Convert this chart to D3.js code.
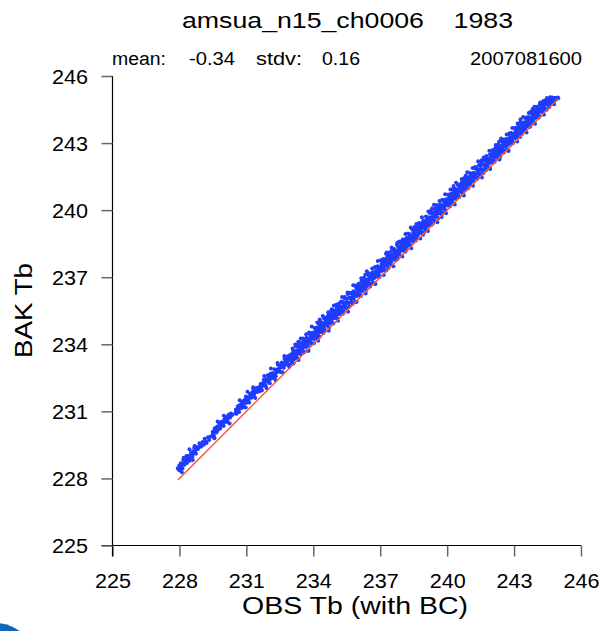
<!DOCTYPE html>
<html>
<head>
<meta charset="utf-8">
<script src="https://cdn.jsdelivr.net/npm/d3@7"></script>
<style>
  body { margin: 0; background: #fff; }
  svg { display: block; }
  text { font-family: "Liberation Sans", Arial, Helvetica, sans-serif; white-space: pre; fill: #000; }
</style>
</head>
<body>
<svg id="chart" width="601" height="631"></svg>
<script>
// ---- labels ----
const titleText = "amsua_n15_ch0006    1983";
const statNames = ["mean:", "stdv:"];
const statValues = ["-0.34", "0.16"];
const dateLabel = "2007081600";
const xLabel = "OBS Tb (with BC)";
const yLabel = "BAK Tb";
const xTickValues = [225, 228, 231, 234, 237, 240, 243, 246];
const yTickValues = [225, 228, 231, 234, 237, 240, 243, 246];

// ---- observed vs background brightness temperature [OBS, BAK] ----
const obsBak = [
[227.93,228.45],[227.96,228.40],[227.99,228.57],[228.01,228.37],[228.04,228.53],[228.06,228.68],[228.09,228.50],[228.12,228.65],[228.14,228.44],[228.17,228.83],[228.20,228.67],[228.23,228.61],[228.25,228.82],[228.28,228.72],[228.31,229.00],[228.34,228.69],[228.37,228.88],[228.40,229.00],[228.43,228.85],[228.46,228.79],[228.49,229.04],[228.52,229.16],[228.55,229.01],[228.58,228.97],[228.62,229.20],[228.66,229.36],[228.70,229.18],[228.74,229.10],[228.79,229.41],[228.84,229.37],[228.90,229.57],[228.97,229.42],
[228.02,228.48],[228.08,228.58],[228.15,228.62],[228.22,228.74],[228.30,228.80],[228.38,228.93],[228.47,228.95],[228.56,229.10],[228.64,229.12],[228.72,229.28],[228.82,229.30],[228.93,229.50],
[228.19,228.93],[228.45,229.31],[228.68,229.45],[228.11,228.28],[228.60,228.82],
[229.04,229.63],[229.09,229.51],[229.13,229.78],[229.18,229.66],[229.22,229.59],[229.28,229.84],[229.33,229.72],[229.40,229.87],
[229.46,229.88],[229.49,230.09],[229.52,230.03],[229.55,229.90],[229.58,230.24],[229.61,230.08],[229.64,230.19],[229.66,230.05],[229.69,230.32],[229.72,230.22],[229.75,230.19],[229.78,230.49],[229.80,230.37],[229.83,230.23],[229.86,230.38],[229.89,230.53],[229.92,230.38],[229.95,230.53],[229.98,230.35],[230.01,230.62],[230.04,230.53],[230.07,230.75],[230.10,230.53],[230.13,230.69],[230.16,230.54],[230.19,230.81],[230.23,230.73],[230.27,230.72],[230.31,230.90],[230.36,230.84],
[229.50,229.97],[229.59,230.14],[229.68,230.12],[229.77,230.28],[229.86,230.45],[229.96,230.44],[230.05,230.62],[230.14,230.61],[230.22,230.86],[230.30,230.80],
[229.71,230.55],[229.99,230.80],[229.57,229.80],[230.25,230.46],
[230.50,230.90],[230.53,231.08],[230.56,230.89],[230.59,231.07],[230.62,231.23],[230.65,231.09],[230.68,230.97],[230.71,231.28],[230.74,231.24],[230.77,231.14],[230.80,231.44],[230.83,231.28],[230.86,231.39],[230.89,231.20],[230.92,231.51],[230.95,231.37],[230.98,231.66],[231.01,231.50],[231.04,231.40],[231.07,231.62],[231.10,231.56],[231.13,231.40],[231.16,231.78],[231.19,231.70],[231.22,231.61],[231.25,231.83],[231.28,231.72],[231.31,231.97],[231.34,231.68],[231.37,231.89],[231.41,231.88],[231.45,232.05],[231.49,231.87],[231.53,232.07],
[230.55,231.00],[230.64,231.16],[230.73,231.17],[230.82,231.36],[230.91,231.40],[231.00,231.58],[231.09,231.48],[231.18,231.64],[231.27,231.80],[231.36,231.80],[231.44,231.93],
[230.70,231.50],[231.05,231.88],[231.30,232.08],[230.97,231.17],[231.40,231.60],
[231.57,232.02],[231.60,231.90],[231.64,232.22],[231.67,232.08],[231.70,231.94],[231.74,232.26],[231.77,232.40],[231.80,232.16],[231.83,232.30],[231.87,232.15],[231.90,232.45],[231.93,232.33],[231.96,232.62],[231.99,232.32],[232.02,232.51],[232.05,232.26],[232.08,232.68],[232.11,232.54],[232.14,232.51],[232.17,232.71],[232.20,232.49],[232.23,232.71],[232.26,232.88],[232.29,232.68],[232.32,232.57],[232.35,232.86],[232.38,232.82],[232.41,233.08],[232.44,232.78],[232.47,232.93],[232.50,233.07],[232.53,232.76],[232.56,232.97],[232.59,233.18],[232.62,232.97],[232.65,233.15],[232.68,232.95],[232.71,233.35],[232.74,233.17],[232.77,233.08],[232.80,233.33],[232.83,233.21],[232.86,233.47],[232.90,233.10],[232.94,233.41],[232.97,233.53],
[231.62,232.10],[231.72,232.16],[231.85,232.38],[231.95,232.40],[232.06,232.43],[232.16,232.62],[232.25,232.64],[232.36,232.75],[232.46,232.88],[232.55,233.02],[232.66,233.05],[232.76,233.24],[232.88,233.30],
[231.80,232.58],[232.10,232.92],[232.40,233.16],[232.70,233.48],[231.90,232.04],[232.30,232.40],[232.62,232.75],[232.92,233.00],
[233.01,233.36],[233.03,233.15],[233.06,233.58],[233.08,233.36],[233.10,233.71],[233.13,233.54],[233.15,233.34],[233.18,233.65],[233.20,233.53],[233.22,233.90],[233.25,233.49],[233.27,233.71],[233.30,233.38],[233.32,233.88],[233.35,233.72],[233.37,233.66],[233.40,233.90],[233.42,233.57],[233.45,234.08],[233.47,233.86],[233.50,233.76],[233.52,233.97],[233.55,234.26],[233.57,233.88],[233.60,233.65],[233.62,234.16],[233.65,234.07],[233.67,233.88],[233.70,234.29],[233.72,234.06],[233.75,234.23],[233.77,233.94],[233.80,234.20],[233.82,234.48],[233.85,234.12],[233.87,234.38],[233.90,234.26],[233.92,234.02],[233.95,234.52],[233.97,234.40],
[233.00,233.28],[233.04,233.49],[233.08,233.27],[233.12,233.50],[233.17,233.69],[233.21,233.45],[233.25,233.66],[233.29,233.62],[233.33,234.11],[233.38,233.60],[233.42,233.89],[233.46,233.76],[233.50,234.05],[233.54,233.71],[233.58,233.94],[233.63,234.06],[233.67,233.93],[233.71,234.21],[233.75,233.71],[233.79,234.13],[233.83,234.23],[233.88,234.09],[233.92,234.40],[233.96,234.27],
[233.07,233.81],[233.19,233.99],[233.31,234.00],[233.44,234.26],[233.56,234.22],[233.68,234.45],[233.81,234.53],[233.93,234.79],[233.11,233.14],[233.34,233.30],[233.58,233.64],[233.79,233.71],
[234.02,234.24],[234.04,234.53],[234.07,234.45],[234.09,234.73],[234.12,234.26],[234.14,234.57],[234.16,234.46],[234.19,234.76],[234.21,234.46],[234.24,234.94],[234.26,234.62],[234.28,234.34],[234.31,234.83],[234.33,234.74],[234.36,234.54],[234.38,234.98],[234.41,234.74],[234.43,234.89],[234.46,234.73],[234.48,235.15],[234.51,234.62],[234.53,234.92],[234.56,235.11],[234.58,234.89],[234.61,235.09],[234.63,234.83],[234.66,235.28],[234.68,235.05],[234.71,234.74],[234.73,235.17],[234.76,235.34],[234.78,235.07],[234.81,235.31],[234.83,234.99],[234.86,235.26],[234.88,235.53],[234.91,235.15],[234.93,235.46],[234.96,235.31],[234.98,235.43],
[234.00,234.42],[234.04,234.27],[234.08,234.43],[234.12,234.63],[234.17,234.33],[234.21,234.65],[234.25,234.54],[234.29,235.11],[234.33,234.70],[234.38,234.63],[234.42,234.91],[234.46,234.78],[234.50,234.70],[234.54,235.00],[234.58,234.97],[234.63,234.90],[234.67,235.20],[234.71,235.05],[234.75,234.93],[234.79,235.20],[234.83,235.57],[234.88,235.18],[234.92,235.37],[234.96,235.18],
[234.06,234.73],[234.18,234.97],[234.30,235.01],[234.43,235.27],[234.55,235.19],[234.67,235.43],[234.80,235.49],[234.92,235.73],[234.03,234.05],[234.22,234.16],[234.45,234.50],[234.69,234.60],[234.90,234.93],
[235.01,235.48],[235.03,235.29],[235.06,235.66],[235.08,235.17],[235.10,235.49],[235.13,235.68],[235.15,235.47],[235.18,235.36],[235.20,235.71],[235.22,235.64],[235.25,235.91],[235.27,235.50],[235.30,235.67],[235.32,235.90],[235.35,235.48],[235.37,235.82],[235.40,235.69],[235.42,236.05],[235.45,235.85],[235.47,235.67],[235.50,236.03],[235.52,235.86],[235.55,236.27],[235.57,235.84],[235.60,236.08],[235.62,235.69],[235.65,236.08],[235.67,236.28],[235.70,236.01],[235.72,235.88],[235.75,236.25],[235.77,236.15],[235.80,236.37],[235.82,236.07],[235.85,236.29],[235.87,235.89],[235.90,236.25],[235.92,236.54],[235.95,236.16],[235.97,236.43],
[235.00,235.33],[235.04,235.54],[235.08,235.34],[235.12,235.53],[235.17,235.36],[235.21,235.68],[235.25,235.60],[235.29,235.52],[235.33,235.87],[235.38,235.68],[235.42,235.85],[235.46,235.60],[235.50,235.88],[235.54,236.25],[235.58,235.86],[235.63,236.08],[235.67,235.88],[235.71,236.07],[235.75,236.27],[235.79,236.04],[235.83,236.23],[235.88,236.20],[235.92,235.90],[235.96,236.44],
[235.05,235.78],[235.17,235.83],[235.29,236.11],[235.41,236.11],[235.54,236.32],[235.66,236.30],[235.79,236.64],[235.91,236.63],[235.11,235.05],[235.34,235.38],[235.56,235.46],[235.76,235.80],[235.94,235.90],
[236.02,236.45],[236.04,236.61],[236.07,236.17],[236.09,236.45],[236.12,236.63],[236.14,236.41],[236.16,236.82],[236.19,236.59],[236.21,236.38],[236.24,236.72],[236.26,236.60],[236.28,236.87],[236.31,236.52],[236.33,236.75],[236.36,236.90],[236.38,236.43],[236.41,236.72],[236.43,237.14],[236.46,236.91],[236.48,236.74],[236.51,236.90],[236.53,237.16],[236.56,236.71],[236.58,237.08],[236.61,236.90],[236.63,237.00],[236.66,237.22],[236.68,236.76],[236.71,237.15],[236.73,236.97],[236.76,237.44],[236.78,237.11],[236.81,237.28],[236.83,237.02],[236.86,237.27],[236.88,237.49],[236.91,237.19],[236.93,237.45],[236.96,237.08],[236.98,237.33],
[236.00,236.28],[236.04,236.49],[236.08,236.27],[236.12,236.50],[236.17,236.69],[236.21,236.45],[236.25,236.66],[236.29,236.62],[236.33,237.11],[236.38,236.60],[236.42,236.89],[236.46,236.76],[236.50,237.05],[236.54,236.71],[236.58,236.94],[236.63,237.06],[236.67,236.93],[236.71,237.21],[236.75,236.71],[236.79,237.13],[236.83,237.23],[236.88,237.09],[236.92,237.40],[236.96,237.27],
[236.03,236.71],[236.15,236.95],[236.27,236.98],[236.40,237.27],[236.52,237.17],[236.64,237.39],[236.77,237.46],[236.89,237.72],[236.13,236.16],[236.35,236.27],[236.55,236.59],[236.79,236.70],[236.97,237.01],
[237.01,237.46],[237.03,237.38],[237.06,237.59],[237.08,237.32],[237.10,237.75],[237.13,237.53],[237.15,237.31],[237.18,237.68],[237.20,237.49],[237.22,237.80],[237.25,237.69],[237.27,237.30],[237.30,237.67],[237.32,237.94],[237.35,237.55],[237.37,237.85],[237.40,237.71],[237.42,237.97],[237.45,237.84],[237.47,237.58],[237.50,238.17],[237.52,237.79],[237.55,238.01],[237.57,237.90],[237.60,238.20],[237.62,237.80],[237.65,238.06],[237.67,238.19],[237.70,237.76],[237.72,238.08],[237.75,238.45],[237.77,238.02],[237.80,238.37],[237.82,238.12],[237.85,238.28],[237.87,238.01],[237.90,238.54],[237.92,238.30],[237.95,238.44],[237.97,238.19],
[237.00,237.42],[237.04,237.27],[237.08,237.43],[237.12,237.63],[237.17,237.33],[237.21,237.65],[237.25,237.54],[237.29,238.11],[237.33,237.70],[237.38,237.63],[237.42,237.91],[237.46,237.78],[237.50,237.70],[237.54,238.00],[237.58,237.97],[237.63,237.90],[237.67,238.20],[237.71,238.05],[237.75,237.93],[237.79,238.20],[237.83,238.57],[237.88,238.18],[237.92,238.37],[237.96,238.18],
[237.02,237.76],[237.14,237.81],[237.26,238.05],[237.39,238.09],[237.51,238.33],[237.63,238.26],[237.76,238.53],[237.88,238.60],[237.16,237.10],[237.36,237.40],[237.59,237.49],[237.78,237.82],[237.99,237.93],
[238.02,238.48],[238.04,238.25],[238.07,238.69],[238.09,238.44],[238.12,238.14],[238.14,238.58],[238.16,238.41],[238.19,238.76],[238.21,238.59],[238.24,238.74],[238.26,238.42],[238.28,238.59],[238.31,238.92],[238.33,238.76],[238.36,238.43],[238.38,238.86],[238.41,238.68],[238.43,239.15],[238.46,238.80],[238.48,239.01],[238.51,238.71],[238.53,238.93],[238.56,239.19],[238.58,238.87],[238.61,239.06],[238.63,238.76],[238.66,239.24],[238.68,239.05],[238.71,238.94],[238.73,239.39],[238.76,239.18],[238.78,239.29],[238.81,238.99],[238.83,239.15],[238.86,239.41],[238.88,239.27],[238.91,239.00],[238.93,239.53],[238.96,239.22],[238.98,239.45],
[238.00,238.33],[238.04,238.54],[238.08,238.34],[238.12,238.53],[238.17,238.36],[238.21,238.68],[238.25,238.60],[238.29,238.52],[238.33,238.87],[238.38,238.68],[238.42,238.85],[238.46,238.60],[238.50,238.88],[238.54,239.25],[238.58,238.86],[238.63,239.08],[238.67,238.88],[238.71,239.07],[238.75,239.27],[238.79,239.04],[238.83,239.23],[238.88,239.20],[238.92,238.90],[238.96,239.44],
[238.01,238.69],[238.13,238.93],[238.25,238.95],[238.37,239.22],[238.50,239.15],[238.62,239.38],[238.74,239.43],[238.87,239.68],[238.18,238.22],[238.39,238.29],[238.60,238.64],[238.80,238.73],[238.97,239.01],
[239.01,239.33],[239.03,239.12],[239.06,239.55],[239.08,239.33],[239.10,239.68],[239.13,239.51],[239.15,239.31],[239.18,239.62],[239.20,239.50],[239.22,239.87],[239.25,239.46],[239.27,239.68],[239.30,239.35],[239.32,239.85],[239.35,239.69],[239.37,239.63],[239.40,239.87],[239.42,239.54],[239.45,240.05],[239.47,239.83],[239.50,239.73],[239.52,239.94],[239.55,240.23],[239.57,239.85],[239.60,239.63],[239.62,240.13],[239.65,240.04],[239.67,239.85],[239.70,240.26],[239.72,240.03],[239.75,240.20],[239.77,239.91],[239.80,240.17],[239.82,240.45],[239.85,240.09],[239.87,240.35],[239.90,240.23],[239.92,239.99],[239.95,240.49],[239.97,240.37],
[239.00,239.26],[239.04,239.47],[239.08,239.25],[239.12,239.48],[239.17,239.67],[239.21,239.43],[239.25,239.64],[239.29,239.60],[239.33,240.09],[239.38,239.58],[239.42,239.87],[239.46,239.74],[239.50,240.03],[239.54,239.69],[239.58,239.92],[239.63,240.04],[239.67,239.91],[239.71,240.19],[239.75,239.69],[239.79,240.11],[239.83,240.21],[239.88,240.07],[239.92,240.38],[239.96,240.25],
[239.05,239.72],[239.16,239.94],[239.28,239.98],[239.41,240.24],[239.53,240.17],[239.66,240.41],[239.78,240.46],[239.91,240.71],[239.14,239.07],[239.36,239.40],[239.56,239.46],[239.76,239.80],[239.95,239.86],
[240.02,240.21],[240.04,240.50],[240.07,240.42],[240.09,240.70],[240.12,240.23],[240.14,240.54],[240.16,240.43],[240.19,240.73],[240.21,240.43],[240.24,240.91],[240.26,240.59],[240.28,240.31],[240.31,240.80],[240.33,240.71],[240.36,240.51],[240.38,240.95],[240.41,240.71],[240.43,240.86],[240.46,240.70],[240.48,241.12],[240.51,240.59],[240.53,240.89],[240.56,241.08],[240.58,240.86],[240.61,241.06],[240.63,240.80],[240.66,241.25],[240.68,241.02],[240.71,240.72],[240.73,241.14],[240.76,241.31],[240.78,241.04],[240.81,241.28],[240.83,240.96],[240.86,241.23],[240.88,241.50],[240.91,241.12],[240.93,241.43],[240.96,241.28],[240.98,241.40],
[240.00,240.39],[240.04,240.24],[240.08,240.40],[240.12,240.60],[240.17,240.30],[240.21,240.62],[240.25,240.51],[240.29,241.08],[240.33,240.67],[240.38,240.60],[240.42,240.88],[240.46,240.75],[240.50,240.67],[240.54,240.97],[240.58,240.94],[240.63,240.87],[240.67,241.17],[240.71,241.02],[240.75,240.90],[240.79,241.17],[240.83,241.54],[240.88,241.15],[240.92,241.34],[240.96,241.15],
[240.03,240.69],[240.15,240.92],[240.27,240.96],[240.40,241.22],[240.52,241.15],[240.65,241.39],[240.77,241.44],[240.90,241.69],[240.13,240.17],[240.34,240.25],[240.55,240.59],[240.75,240.66],[240.94,240.98],
[241.01,241.44],[241.03,241.25],[241.06,241.62],[241.08,241.13],[241.10,241.45],[241.13,241.64],[241.15,241.43],[241.18,241.32],[241.20,241.67],[241.22,241.60],[241.25,241.87],[241.27,241.46],[241.30,241.63],[241.32,241.86],[241.35,241.44],[241.37,241.78],[241.40,241.65],[241.42,242.01],[241.45,241.81],[241.47,241.63],[241.50,241.99],[241.52,241.82],[241.55,242.23],[241.57,241.80],[241.60,242.04],[241.62,241.65],[241.65,242.04],[241.67,242.24],[241.70,241.97],[241.72,241.84],[241.75,242.21],[241.77,242.11],[241.80,242.33],[241.82,242.03],[241.85,242.25],[241.87,241.87],[241.90,242.21],[241.92,242.50],[241.95,242.12],[241.97,242.39],
[241.00,241.29],[241.04,241.50],[241.08,241.30],[241.12,241.49],[241.17,241.32],[241.21,241.64],[241.25,241.56],[241.29,241.48],[241.33,241.83],[241.38,241.64],[241.42,241.81],[241.46,241.56],[241.50,241.84],[241.54,242.21],[241.58,241.82],[241.63,242.04],[241.67,241.84],[241.71,242.03],[241.75,242.23],[241.79,242.00],[241.83,242.19],[241.88,242.16],[241.92,241.86],[241.96,242.40],
[241.02,241.66],[241.14,241.89],[241.26,241.93],[241.39,242.19],[241.51,242.13],[241.64,242.36],[241.76,242.42],[241.89,242.66],[241.16,241.09],[241.36,241.40],[241.56,241.46],[241.74,241.78],[241.93,241.84],
[242.02,242.41],[242.04,242.57],[242.07,242.13],[242.09,242.41],[242.12,242.59],[242.14,242.37],[242.16,242.78],[242.19,242.55],[242.21,242.34],[242.24,242.68],[242.26,242.56],[242.28,242.83],[242.31,242.48],[242.33,242.71],[242.36,242.86],[242.38,242.39],[242.41,242.68],[242.43,243.10],[242.46,242.87],[242.48,242.70],[242.51,242.86],[242.53,243.12],[242.56,242.67],[242.58,243.04],[242.61,242.86],[242.63,242.96],[242.66,243.18],[242.68,242.72],[242.71,243.11],[242.73,242.93],[242.76,243.40],[242.78,243.07],[242.81,243.24],[242.83,242.98],[242.86,243.23],[242.88,243.45],[242.91,243.15],[242.93,243.41],[242.96,243.04],[242.98,243.29],
[242.00,242.24],[242.04,242.45],[242.08,242.23],[242.12,242.46],[242.17,242.65],[242.21,242.41],[242.25,242.62],[242.29,242.58],[242.33,243.07],[242.38,242.56],[242.42,242.85],[242.46,242.72],[242.50,243.01],[242.54,242.67],[242.58,242.90],[242.63,243.02],[242.67,242.89],[242.71,243.17],[242.75,242.67],[242.79,243.09],[242.83,243.19],[242.88,243.05],[242.92,243.36],[242.96,243.23],
[242.05,242.69],[242.18,242.91],[242.30,242.96],[242.42,243.20],[242.55,243.16],[242.67,243.38],[242.80,243.44],[242.92,243.67],[242.13,242.17],[242.35,242.26],[242.54,242.58],[242.74,242.65],[242.95,242.99],
[243.01,243.41],[243.03,243.33],[243.06,243.54],[243.08,243.27],[243.10,243.70],[243.13,243.48],[243.15,243.26],[243.18,243.63],[243.20,243.44],[243.22,243.75],[243.25,243.64],[243.27,243.27],[243.30,243.62],[243.32,243.89],[243.35,243.50],[243.37,243.80],[243.40,243.66],[243.42,243.92],[243.45,243.79],[243.47,243.53],[243.50,244.12],[243.52,243.74],[243.55,243.96],[243.57,243.85],[243.60,244.15],[243.62,243.75],[243.65,244.01],[243.67,244.14],[243.70,243.72],[243.72,244.03],[243.75,244.40],[243.77,243.97],[243.80,244.32],[243.82,244.07],[243.85,244.23],[243.87,243.96],[243.90,244.49],[243.92,244.25],[243.95,244.39],[243.97,244.14],
[243.00,243.37],[243.04,243.22],[243.08,243.38],[243.12,243.58],[243.17,243.28],[243.21,243.60],[243.25,243.49],[243.29,244.06],[243.33,243.65],[243.38,243.58],[243.42,243.86],[243.46,243.73],[243.50,243.65],[243.54,243.95],[243.58,243.92],[243.63,243.85],[243.67,244.15],[243.71,244.00],[243.75,243.88],[243.79,244.15],[243.83,244.52],[243.88,244.13],[243.92,244.32],[243.96,244.13],
[243.04,243.67],[243.16,243.88],[243.28,243.93],[243.41,244.17],[243.53,244.13],[243.66,244.35],[243.78,244.40],[243.91,244.63],[243.14,243.07],[243.34,243.38],[243.56,243.47],[243.74,243.78],[243.94,243.86],
[244.02,244.38],[244.04,244.19],[244.07,244.59],[244.09,244.36],[244.12,244.56],[244.14,244.20],[244.16,244.74],[244.19,244.51],[244.21,244.42],[244.24,244.72],[244.26,244.64],[244.28,244.38],[244.31,244.86],[244.33,244.62],[244.36,244.77],[244.38,244.56],[244.41,244.91],[244.43,244.76],[244.46,244.49],[244.48,244.93],[244.51,244.75],[244.53,244.90],[244.56,244.68],[244.58,244.88],[244.61,244.81],[244.63,245.03],[244.66,244.74],[244.68,244.94],[244.71,245.04],[244.73,244.88],[244.76,244.98],[244.78,244.83],[244.81,245.02],[244.83,245.00],[244.86,244.97],[244.88,245.00],[244.91,244.97],[244.93,244.99],[244.96,245.04],[244.98,245.01],
[244.00,244.30],[244.05,244.50],[244.10,244.30],[244.15,244.53],[244.20,244.45],[244.25,244.75],[244.30,244.63],[244.35,244.50],[244.40,244.82],[244.45,244.72],[244.50,244.85],[244.55,244.73],[244.60,244.88],[244.65,244.87],[244.70,244.82],[244.75,244.99],[244.80,244.94],[244.85,244.93],[244.90,245.00],
[244.03,244.63],[244.17,244.82],[244.32,244.88],[244.47,245.02],[244.62,245.05],[244.11,244.14],[244.34,244.27],[244.57,244.60],[244.79,244.74]
];

// ---- layout ----
const svg = d3.select("#chart");
const x = d3.scaleLinear().domain([225, 246]).range([112.5, 581]);
const y = d3.scaleLinear().domain([225, 246]).range([545.5, 76]);
const FONT = '"Liberation Sans", Arial, Helvetica, sans-serif';

// text helper: glyphs stretched to a fixed rendered length (wide plotting font)
function label(px, py, str, size, len, anchor) {
  return svg.append("text").attr("x", px).attr("y", py)
    .attr("text-anchor", anchor || "start")
    .attr("textLength", len).attr("lengthAdjust", "spacingAndGlyphs")
    .style("font-size", size + "px").text(str);
}

// titles
label(347.5, 28, titleText, 22, 331, "middle");
const statY = 65;
label(112, statY, statNames[0], 18, 54);
label(189, statY, statValues[0], 18, 46);
label(256, statY, statNames[1], 18, 46);
label(322, statY, statValues[1], 18, 38);
label(470, statY, dateLabel, 18, 112);

// axes
const xAxis = d3.axisBottom(x).tickValues(xTickValues).tickSize(11).tickSizeOuter(0).tickFormat(d3.format("d"));
const yAxis = d3.axisLeft(y).tickValues(yTickValues).tickSize(11).tickSizeOuter(0).tickFormat(d3.format("d"));

const gx = svg.append("g").attr("transform", `translate(0,${y(225)})`).call(xAxis);
const gy = svg.append("g").attr("transform", `translate(${x(225)},0)`).call(yAxis);

[gx, gy].forEach(g => {
  g.select(".domain").attr("stroke", "#000").attr("stroke-width", 1.2);
  g.selectAll(".tick line").attr("stroke", "#666").attr("stroke-width", 1.5);
  g.selectAll(".tick text").attr("fill", "#000").style("font-size", "20px").style("font-family", FONT)
    .attr("textLength", 36).attr("lengthAdjust", "spacingAndGlyphs");
});
gx.selectAll(".tick text").attr("y", 0).attr("dy", null).attr("transform", "translate(0,42.5)");
gy.selectAll(".tick text").attr("x", -24.5).attr("dy", "0.36em");

// axis lines run out to the outer tick ends at the corner
gy.select(".domain").attr("d", `M0,${y(246)}V${y(225) + 11}`);
gx.select(".domain").attr("d", `M${x(225) - 11},0H${x(246)}`);

label(355, 614, xLabel, 23, 226, "middle");
svg.append("text").attr("transform", "translate(32,310.5) rotate(-90)").attr("text-anchor", "middle")
  .attr("textLength", 95).attr("lengthAdjust", "spacingAndGlyphs")
  .style("font-size", "23px").text(yLabel);

// scatter points
svg.append("g").selectAll("circle").data(obsBak).join("circle")
  .attr("cx", d => x(d[0])).attr("cy", d => y(d[1])).attr("r", 2)
  .attr("fill", "#1f3cff");

// 1:1 reference line over the observed range
const obsExtent = d3.extent(obsBak, d => d[0]);
svg.append("line")
  .attr("x1", x(obsExtent[0])).attr("y1", y(obsExtent[0]))
  .attr("x2", x(obsExtent[1])).attr("y2", y(obsExtent[1]))
  .attr("stroke", "#f2583a").attr("stroke-width", 1.5);

// corner emblem
svg.append("circle").attr("cx", -5).attr("cy", 665).attr("r", 42).attr("fill", "#1565b5");
</script>
</body>
</html>
